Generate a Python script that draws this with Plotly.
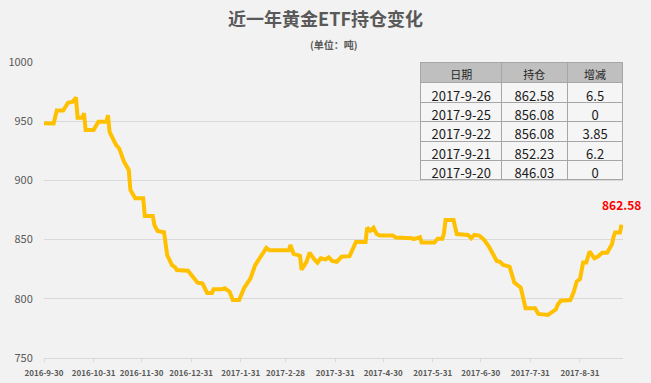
import plotly.graph_objects as go

dates = [
    "2016-09-30", "2016-10-06", "2016-10-08", "2016-10-12", "2016-10-15", "2016-10-18",
    "2016-10-20", "2016-10-21", "2016-10-24", "2016-10-25", "2016-10-26", "2016-10-31",
    "2016-11-03", "2016-11-08", "2016-11-09", "2016-11-10", "2016-11-14", "2016-11-16",
    "2016-11-19", "2016-11-22", "2016-11-23", "2016-11-26", "2016-12-01", "2016-12-02",
    "2016-12-07", "2016-12-08", "2016-12-10", "2016-12-14", "2016-12-16", "2016-12-19",
    "2016-12-21", "2016-12-22", "2016-12-29", "2017-01-02", "2017-01-04", "2017-01-07",
    "2017-01-10", "2017-01-13", "2017-01-14", "2017-01-19", "2017-01-21", "2017-01-24",
    "2017-01-26", "2017-01-30", "2017-02-02", "2017-02-04", "2017-02-06", "2017-02-09",
    "2017-02-11", "2017-02-14", "2017-02-16", "2017-02-18", "2017-03-02", "2017-03-03",
    "2017-03-05", "2017-03-09", "2017-03-10", "2017-03-13", "2017-03-15", "2017-03-18",
    "2017-03-20", "2017-03-22", "2017-03-25", "2017-03-27", "2017-03-29", "2017-04-01",
    "2017-04-04", "2017-04-09", "2017-04-11", "2017-04-13", "2017-04-19", "2017-04-20",
    "2017-04-22", "2017-04-24", "2017-04-26", "2017-04-28", "2017-05-06", "2017-05-08",
    "2017-05-18", "2017-05-19", "2017-05-23", "2017-05-24", "2017-06-01", "2017-06-03",
    "2017-06-06", "2017-06-07", "2017-06-08", "2017-06-13", "2017-06-15", "2017-06-22",
    "2017-06-24", "2017-06-26", "2017-06-29", "2017-07-02", "2017-07-05", "2017-07-07",
    "2017-07-08", "2017-07-10", "2017-07-12", "2017-07-14", "2017-07-18", "2017-07-20",
    "2017-07-21", "2017-07-25", "2017-07-27", "2017-07-28", "2017-08-03", "2017-08-05",
    "2017-08-11", "2017-08-14", "2017-08-16", "2017-08-17", "2017-08-19", "2017-08-25",
    "2017-08-27", "2017-08-29", "2017-08-31", "2017-09-02", "2017-09-04", "2017-09-06",
    "2017-09-09", "2017-09-11", "2017-09-14", "2017-09-17", "2017-09-19", "2017-09-20",
    "2017-09-21", "2017-09-22", "2017-09-25", "2017-09-26",
]
holdings = [
    948.2, 948.0, 959.0, 959.0, 965.6, 966.5,
    970.0, 953.0, 953.0, 956.7, 942.6, 942.6,
    949.6, 949.6, 955.0, 941.0, 930.0, 927.0,
    915.8, 908.8, 891.9, 885.0, 885.0, 870.0,
    870.0, 862.3, 857.3, 856.2, 837.0, 828.5,
    826.6, 824.3, 823.7, 817.0, 813.6, 813.0,
    805.0, 805.0, 808.0, 808.0, 808.9, 806.0,
    799.0, 799.0, 808.9, 813.0, 817.0, 828.5,
    832.8, 839.8, 843.0, 841.0, 841.0, 845.4,
    838.0, 836.4, 824.6, 831.0, 838.9, 833.3,
    830.5, 834.2, 833.3, 835.0, 832.0, 831.3,
    835.5, 836.0, 841.8, 848.0, 848.0, 860.0,
    857.5, 860.0, 854.7, 853.4, 853.4, 851.7,
    851.2, 850.4, 852.0, 847.6, 847.6, 850.7,
    850.7, 855.3, 866.6, 866.6, 854.7, 853.9,
    851.1, 853.9, 853.4, 850.0, 844.4, 839.6,
    835.5, 832.0, 831.3, 828.6, 827.2, 817.3,
    813.7, 809.5, 794.8, 792.0, 792.0, 787.2,
    786.4, 789.2, 791.1, 794.8, 798.4, 799.0,
    805.2, 814.6, 816.6, 830.6, 830.6, 840.0,
    834.2, 835.5, 838.9, 838.9, 843.0, 846.03,
    852.23, 856.08, 856.08, 862.58,
]

tick_dates = ["2016-09-30", "2016-10-31", "2016-11-30", "2016-12-31", "2017-01-31",
              "2017-02-28", "2017-03-31", "2017-04-30", "2017-05-31", "2017-06-30",
              "2017-07-31", "2017-08-31"]
tick_labels = ["2016-9-30", "2016-10-31", "2016-11-30", "2016-12-31", "2017-1-31",
               "2017-2-28", "2017-3-31", "2017-4-30", "2017-5-31", "2017-6-30",
               "2017-7-31", "2017-8-31"]

table_header = ["日期", "持仓", "增减"]
table_dates = ["2017-9-26", "2017-9-25", "2017-9-22", "2017-9-21", "2017-9-20"]
table_hold = ["862.58", "856.08", "856.08", "852.23", "846.03"]
table_change = ["6.5", "0", "3.85", "6.2", "0"]

title_text = "近一年黄金ETF持仓变化"
subtitle_text = "(单位：吨)"
end_label = "862.58"

FONT = "Noto Sans CJK SC"
BG = "#f2f2f2"

fig = go.Figure()
fig.add_trace(go.Scatter(
    x=dates, y=holdings, mode="lines",
    line=dict(color="#FFC000", width=4),
    hoverinfo="skip", showlegend=False,
))

fig.add_trace(go.Table(
    domain=dict(x=[0.651, 1.0], y=[0.55, 0.997]),
    columnwidth=[81, 66, 56],
    header=dict(values=table_header, fill_color="#bfbfbf",
                line=dict(color="#a6a6a6", width=1),
                font=dict(family=FONT, size=11, color="#262626"),
                align="center", height=20),
    cells=dict(values=[table_dates, table_hold, table_change], fill_color="#f5f5f5",
               line=dict(color="#a6a6a6", width=1),
               font=dict(family=FONT, size=13, color="#1a1a1a"),
               align="center", height=19.4),
))

fig.add_annotation(x=dates[-1], y=holdings[-1], text=f"<b>{end_label}</b>", showarrow=False,
                   xanchor="center", yanchor="bottom", yshift=10,
                   font=dict(family=FONT, size=12, color="#ff0000"))

fig.add_annotation(x=0.5, y=(358 - 45) / 296, xref="paper", yref="paper",
                   text=f"<b>{subtitle_text}</b>", showarrow=False,
                   xanchor="center", yanchor="middle",
                   font=dict(family=FONT, size=10, color="#595959"))

fig.update_layout(
    width=651, height=383,
    margin=dict(l=44, r=28, t=62, b=25, autoexpand=False),
    paper_bgcolor=BG, plot_bgcolor=BG,
    title=dict(text=f"<b>{title_text}</b>", x=0.5, xref="container", xanchor="center",
               y=1 - 20 / 383, yref="container", yanchor="middle",
               font=dict(family=FONT, size=18, color="#595959")),
    showlegend=False,
)

fig.update_xaxes(
    type="date", range=["2016-09-30", "2017-09-26 22:00"],
    tickvals=tick_dates, ticktext=tick_labels, tickangle=0, automargin=False,
    tickfont=dict(family=FONT, size=8, color="#595959", weight="bold"),
    showgrid=False, showline=True, linecolor="#d9d9d9", linewidth=1,
    ticks="outside", ticklen=3, tickcolor="#d9d9d9", zeroline=False,
    ticklabelstandoff=4,
)
fig.update_yaxes(
    range=[750, 1000], dtick=50, tick0=750, automargin=False,
    tickfont=dict(family=FONT, size=11, color="#595959"),
    showgrid=True, gridcolor="#d9d9d9", gridwidth=1,
    ticks="outside", ticklen=8, tickcolor="rgba(0,0,0,0)", zeroline=False,
)

fig.write_html(
    "out.html",
    config={"displayModeBar": False},
    post_script="document.body.style.margin='0';document.body.style.background='#f2f2f2';",
)
